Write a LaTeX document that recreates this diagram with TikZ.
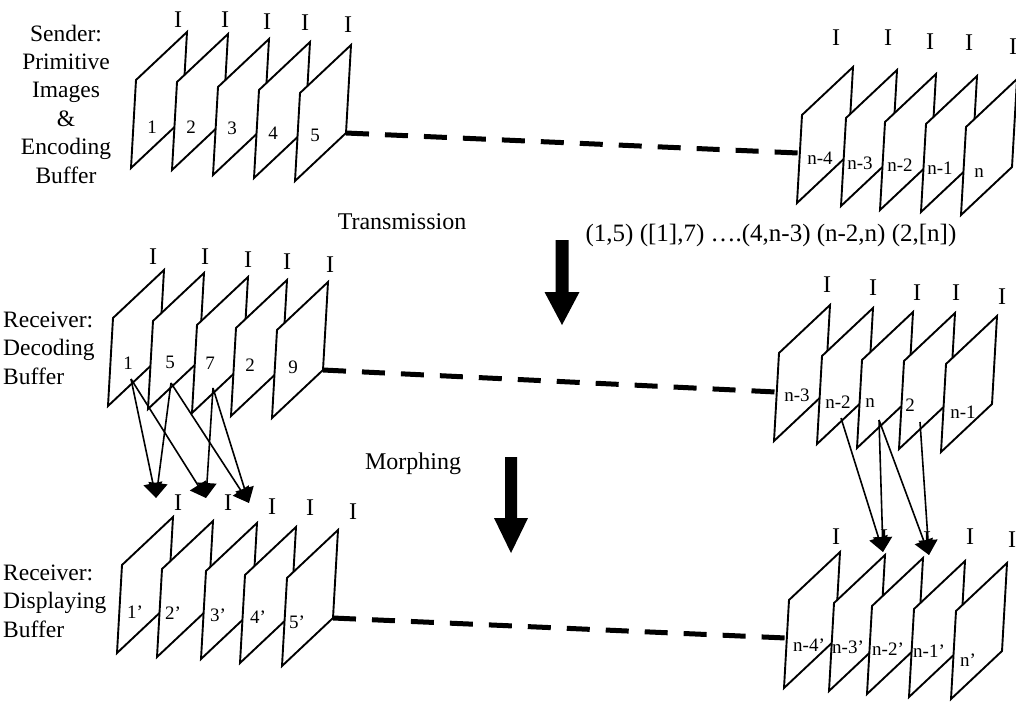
\documentclass[tikz,border=0pt]{standalone}
\usepackage{fontspec}
\setmainfont{Liberation Serif}
\usetikzlibrary{arrows.meta}
\newcommand\pnl[2]{\filldraw[panel] (#1) coordinate (#2) -- ++(51,-48) -- ++(-5,88) coordinate (#2br) -- ++(-51,48) -- cycle;}
\begin{document}
\begin{tikzpicture}[x=1pt,y=-1pt,
  panel/.style={draw=black, fill=white, line width=1.9pt, line join=miter},
  lbl/.style={inner sep=0pt, font=\fontsize{19}{20}\selectfont},
  itop/.style={inner sep=0pt, font=\fontsize{24}{26}\selectfont},
  side/.style={inner sep=0pt, font=\fontsize{23.5}{28.4}\selectfont},
  captxt/.style={inner sep=0pt, font=\fontsize{24}{28}\selectfont},
  link/.style={line width=5pt, dash pattern=on 23pt off 16pt},
  morph/.style={line width=1.6pt, -{Triangle[length=15pt,width=19pt]}},
  big/.style={fill=black}
]
\useasboundingbox (0,0) rectangle (1016,702);
\clip (0,0) rectangle (1016,702);
\fill[white] (0,0) rectangle (1016,702);

% side captions
\node[side, align=center] (sender) at (66,104) {Sender:\\Primitive\\Images\\\&\\Encoding\\Buffer};
\node[side, align=left, anchor=west] (recdec) at (3,348) {Receiver:\\Decoding\\Buffer};
\node[side, align=left, anchor=west] (recdis) at (3,601) {Receiver:\\Displaying\\Buffer};

% ---------- row 1 ----------
\pnl{136,80}{a1}\pnl{177,82}{a2}\pnl{218,87}{a3}\pnl{259,90}{a4}\pnl{300,93}{a5}
\node[lbl] (a1t) at (152,127) {1};
\node[lbl] (a2t) at (191,127) {2};
\node[lbl] (a3t) at (232,128) {3};
\node[lbl] (a4t) at (273,133) {4};
\node[lbl] (a5t) at (315,135) {5};
\pnl{802,115}{b1}\pnl{846,118}{b2}\pnl{885,122}{b3}\pnl{926,124}{b4}\pnl{966,127}{b5}
\node[lbl] (b1t) at (820,158) {n-4};
\node[lbl] (b2t) at (860,163) {n-3};
\node[lbl] (b3t) at (900,165) {n-2};
\node[lbl] (b4t) at (940,168) {n-1};
\node[lbl] (b5t) at (979,173) {n};
\foreach \x/\y [count=\i] in {178/20,225/20,267/22,305/23,348/25,836/38,888/38,930/42,969/43,1013/47}
  \node[itop] (i1-\i) at (\x,\y) {I};
\coordinate (b1l) at (798,153);
\draw[link] (a5br) -- (b1l);

% ---------- row 2 ----------
\pnl{113,318}{c1}\pnl{153,321}{c2}\pnl{197,325}{c3}\pnl{236,328}{c4}\pnl{277,330}{c5}
\node[lbl] (c1t) at (128,363) {1};
\node[lbl] (c2t) at (170,362) {5};
\node[lbl] (c3t) at (210,363) {7};
\node[lbl] (c4t) at (250,365) {2};
\node[lbl] (c5t) at (293,367) {9};
\pnl{779,353}{d1}\pnl{822,356}{d2}\pnl{862,360}{d3}\pnl{904,361}{d4}\pnl{946,364}{d5}
\node[lbl] (d1t) at (797,395) {n-3};
\node[lbl] (d2t) at (838,402) {n-2};
\node[lbl] (d3t) at (870,403) {n};
\node[lbl] (d4t) at (910,405) {2};
\node[lbl] (d5t) at (963,412) {n-1};
\foreach \x/\y [count=\i] in {153/257,205/257,248/260,287/262,330/265,827/285,873/288,917/293,956/293,1002/297}
  \node[itop] (i2-\i) at (\x,\y) {I};
\coordinate (d1l) at (776,392);
\draw[link] (c5br) -- (d1l);

% ---------- row 3 ----------
\pnl{122,565}{e1}\pnl{162,569}{e2}\pnl{206,571}{e3}\pnl{245,575}{e4}\pnl{287,578}{e5}
\node[lbl] (e1t) at (135,612) {1’};
\node[lbl] (e2t) at (173,613) {2’};
\node[lbl] (e3t) at (218,615) {3’};
\node[lbl] (e4t) at (258,617) {4’};
\node[lbl] (e5t) at (297,622) {5’};
\pnl{789,600}{f1}\pnl{834,603}{f2}\pnl{872,606}{f3}\pnl{914,609}{f4}\pnl{956,611}{f5}
\node[lbl] (f1t) at (809,645) {n-4’};
\node[lbl] (f2t) at (848,647) {n-3’};
\node[lbl] (f3t) at (888,649) {n-2’};
\node[lbl] (f4t) at (929,651) {n-1’};
\node[lbl] (f5t) at (968,660) {n’};
\foreach \x/\y [count=\i] in {178/503,228/503,272/507,310/508,353/512,836/537,884/538,927/540,970/537,1012/540}
  \node[itop] (i3-\i) at (\x,\y) {I};
\coordinate (f1l) at (786,638);
\draw[link] (e5br) -- (f1l);

% ---------- captions ----------
\node[captxt] (trans) at (402,222) {Transmission};
\node[captxt, font=\fontsize{25}{28}\selectfont] (pairs) at (771,235) {(1,5) ([1],7) ….(4,n-3) (n-2,n) (2,[n])};
\node[captxt] (morphing) at (413,464) {Morphing};

% ---------- big arrows ----------
\coordinate (tx) at (562,240);
\fill[big] (555.5,240) -- (568.5,240) -- (568.5,292) -- (579.5,292) -- (562,325) -- (544.5,292) -- (555.5,292) -- cycle;
\coordinate (mx) at (511,457);
\fill[big] (505,457) -- (517,457) -- (517,518) -- (528,518) -- (511,553) -- (494,518) -- (505,518) -- cycle;

% ---------- morphing arrows ----------
\coordinate (s1) at (131,379);
\coordinate (s5) at (171,383);
\coordinate (s7) at (213,388);
\coordinate (A1) at (156,498);
\coordinate (A2) at (206,498);
\coordinate (A3) at (249,503);
\draw[morph] (s1) -- (A1);
\draw[morph] (s5) -- (A1);
\draw[morph] (s1) -- (A2);
\draw[morph] (s7) -- (A2);
\draw[morph] (s5) -- (A3);
\draw[morph] (s7) -- (A3);
\coordinate (t2) at (841,418);
\coordinate (tn) at (879,420);
\coordinate (tb) at (920,422);
\coordinate (B1) at (883,552);
\coordinate (B2) at (929,555);
\draw[morph] (t2) -- (B1);
\draw[morph] (tn) -- (B1);
\draw[morph] (tn) -- (B2);
\draw[morph] (tb) -- (B2);
\end{tikzpicture}
\end{document}
